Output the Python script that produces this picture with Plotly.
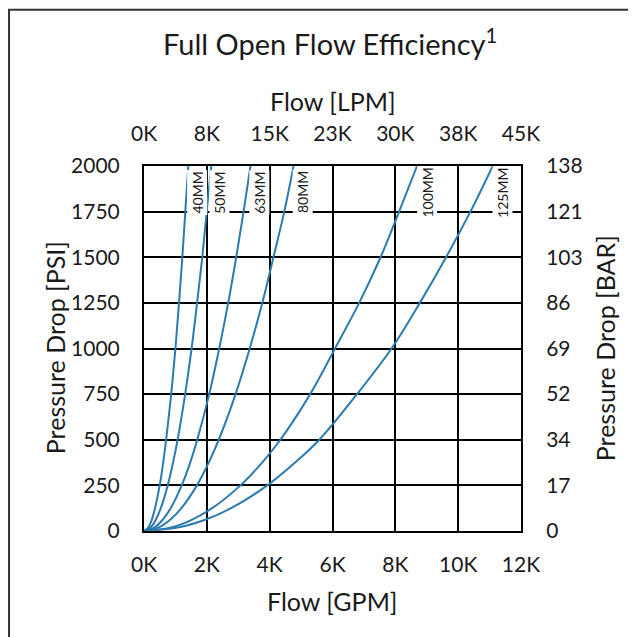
import plotly.graph_objects as go

# ---- data ----
pressure_psi = [0, 20, 60, 125, 250, 375, 500, 750, 1000, 1250, 1500, 1750, 2000]

flow_40mm = [0, 140, 245, 350, 500, 610, 705, 865, 1000, 1115, 1220, 1315, 1410]
flow_50mm = [0, 215, 370, 535, 755, 925, 1070, 1310, 1515, 1690, 1855, 1995, 2140]
flow_63mm = [0, 340, 585, 850, 1200, 1470, 1695, 2075, 2395, 2680, 2935, 3170, 3390]
flow_80mm = [0, 475, 825, 1190, 1685, 2060, 2380, 2915, 3365, 3765, 4120, 4465, 4760]
flow_100mm = [0, 870, 1505, 2170, 3070, 3760, 4340, 5290, 6080, 6850, 7530, 8120, 8690]
flow_125mm = [0, 1110, 1925, 2775, 3925, 4810, 5580, 6780, 7880, 8780, 9615, 10390, 11100]

series_names = ["40MM", "50MM", "63MM", "80MM", "100MM", "125MM"]
series_flows = [flow_40mm, flow_50mm, flow_63mm, flow_80mm, flow_100mm, flow_125mm]

# label anchor positions (GPM) for the size labels
label_x = [1690, 2400, 3670, 5050, 9010, 11410]
label_y = 1855

gpm_ticks = [0, 2000, 4000, 6000, 8000, 10000, 12000]
gpm_labels = ["0K", "2K", "4K", "6K", "8K", "10K", "12K"]
lpm_labels = ["0K", "8K", "15K", "23K", "30K", "38K", "45K"]
psi_ticks = [0, 250, 500, 750, 1000, 1250, 1500, 1750, 2000]
bar_labels = ["0", "17", "34", "52", "69", "86", "103", "121", "138"]

FONT = "Lato"
LINE = "#2b7bb0"
TXT = "#1a1a1a"

fig = go.Figure()
for name, fl in zip(series_names, series_flows):
    fig.add_trace(go.Scatter(x=fl, y=pressure_psi, mode="lines", name=name,
                             line=dict(color=LINE, width=2, shape="spline", smoothing=1.0),
                             showlegend=False, hoverinfo="skip"))
# anchor trace for secondary axes
fig.add_trace(go.Scatter(x=[0], y=[0], xaxis="x2", yaxis="y2", mode="markers",
                         marker=dict(opacity=0), showlegend=False, hoverinfo="skip"))

for name, lx in zip(series_names, label_x):
    fig.add_annotation(x=lx, y=label_y, text=name, textangle=-90, showarrow=False,
                       font=dict(family=FONT, size=14, color=TXT),
                       bgcolor="white", borderpad=1, xanchor="center", yanchor="middle")

tickfont = dict(family=FONT, size=21, color=TXT)
axis_common = dict(showline=True, linecolor="black", linewidth=2, ticks="",
                   tickfont=tickfont, zeroline=False, automargin=False)

fig.update_layout(
    width=628, height=629,
    margin=dict(l=136, r=115, t=158, b=106, autoexpand=False),
    paper_bgcolor="white", plot_bgcolor="white",
    xaxis=dict(range=[0, 12000], tickvals=gpm_ticks, ticktext=gpm_labels,
               showgrid=True, gridcolor="black", gridwidth=1.5, mirror=True,
               ticklabelstandoff=14, **axis_common),
    xaxis2=dict(range=[0, 12000], tickvals=gpm_ticks, ticktext=lpm_labels, overlaying="x",
                side="top", anchor="y2", showgrid=False, ticklabelstandoff=15, **axis_common),
    yaxis=dict(range=[0, 2000], tickvals=psi_ticks, showgrid=True, gridcolor="black",
               gridwidth=1.5, mirror=True, ticklabelstandoff=18, **axis_common),
    yaxis2=dict(range=[0, 2000], tickvals=psi_ticks, ticktext=bar_labels, overlaying="y",
                side="right", anchor="x2", showgrid=False, ticklabelstandoff=19, **axis_common),
)

titles = [
    ("Full Open Flow Efficiency<sup>1</sup>", 0.493, 1.340, 0, 29),
    ("Flow [LPM]", 0.5, 1.178, 0, 25),
    ("Flow [GPM]", 0.5, -0.192, 0, 25),
    ("Pressure Drop [PSI]", -0.236, 0.501, -90, 25),
    ("Pressure Drop [BAR]", 1.223, 0.501, -90, 25),
]
for txt, px, py, ang, sz in titles:
    fig.add_annotation(x=px, y=py, xref="paper", yref="paper", text=txt, textangle=ang,
                       showarrow=False, xanchor="center", yanchor="middle",
                       font=dict(family=FONT, size=sz, color=TXT))

# outer frame (left and top edges visible)
fig.add_shape(type="rect", xref="paper", yref="paper", x0=-0.358, x1=1.6, y0=-0.8, y1=1.428,
              line=dict(color="#333", width=2), layer="below")

fig.write_html("out.html")
